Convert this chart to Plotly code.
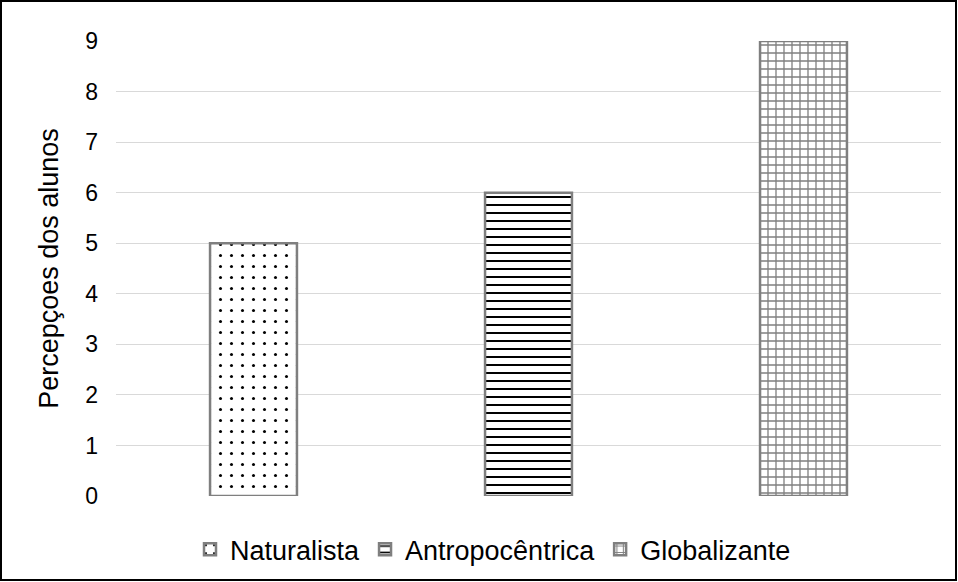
import plotly.graph_objects as go

categories = ["Naturalista", "Antropocêntrica", "Globalizante"]
values = [5, 6, 9]
patterns = [".", "-", "+"]
y_ticks = [0, 1, 2, 3, 4, 5, 6, 7, 8, 9]

pattern_style = {
    ".": dict(fgcolor="#000000", size=11, solidity=0.06),
    "-": dict(fgcolor="#000000", size=8, solidity=0.25),
    "+": dict(fgcolor="#808080", size=8, solidity=0.3),
}

W, H = 958, 582
ML, MR, MT, MB = 116, 17, 41, 86
PW, PH = W - ML - MR, H - MT - MB

fig = go.Figure()
for cat, val, pat in zip(categories, values, patterns):
    st = pattern_style[pat]
    fig.add_trace(go.Bar(
        x=[cat], y=[val], name=cat, width=0.316,
        marker=dict(
            color="white",
            line=dict(color="#7f7f7f", width=2.5),
            pattern=dict(shape=pat, fgcolor=st["fgcolor"], bgcolor="white",
                         fgopacity=1, size=st["size"], solidity=st["solidity"]),
        ),
    ))

fig.update_layout(
    width=W, height=H,
    margin=dict(l=ML, r=MR, t=MT, b=MB, autoexpand=False),
    paper_bgcolor="white", plot_bgcolor="white",
    font=dict(family="Liberation Sans, Arial, sans-serif", size=23, color="#000000"),
    barmode="overlay",
    showlegend=True,
    legend=dict(orientation="h", x=(493 - ML) / PW, xanchor="center", y=-0.118,
                yanchor="middle", font=dict(size=27), itemwidth=30,
                traceorder="normal"),
    xaxis=dict(categoryorder="array", categoryarray=categories,
               showticklabels=False, showgrid=False, zeroline=False, showline=False),
    yaxis=dict(range=[0, 9], tickvals=y_ticks, showgrid=True, gridcolor="#d9d9d9",
               gridwidth=1, zeroline=False, showline=False, ticks="",
               ticklen=0, ticklabelstandoff=17,
               title=dict(text="Percepçoes dos alunos", standoff=18,
                          font=dict(size=27)),
               tickfont=dict(size=23)),
    shapes=[dict(type="rect", xref="paper", yref="paper",
                 x0=(1 - ML) / PW, x1=(956 - ML) / PW,
                 y0=((H - MB) - 580) / PH, y1=((H - MB) - 1) / PH,
                 line=dict(color="black", width=2), layer="below")],
)

fig.write_html("out.html", config={"displayModeBar": False},
               post_script="document.body.style.margin='0';")
